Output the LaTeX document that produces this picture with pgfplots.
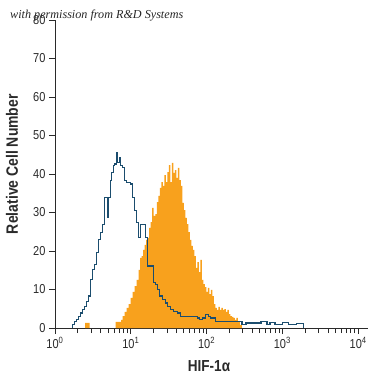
\documentclass[border=0pt]{standalone}
\usepackage{fontspec}
\setmainfont{Liberation Sans}[FakeStretch=0.85]
\newfontfamily\notefont{Liberation Serif}
\usepackage{pgfplots}
\pgfplotsset{compat=1.18}
\definecolor{histblue}{HTML}{1B4D6E}
\definecolor{historange}{HTML}{F8A11D}
\definecolor{axgray}{HTML}{2A2A2A}
\begin{document}
\begin{tikzpicture}
\begin{axis}[
  scale only axis, width=313bp, height=308bp,
  xmin=0, xmax=4.13, ymin=0, ymax=80,
  axis x line*=bottom, axis y line*=left,
  axis line style={axgray, line width=0.8pt},
  every tick/.style={axgray, line width=0.7pt},
  tick align=outside,
  major tick length=6bp, minor tick length=5bp,
  ytick={0,10,20,30,40,50,60,70,80},
  xtick={0,1,2,3,4},
  xticklabels={10\textsuperscript{0},10\textsuperscript{1},10\textsuperscript{2},10\textsuperscript{3},10\textsuperscript{4}},
  minor xtick={0.3010,0.4771,0.6021,0.6990,0.7782,0.8451,0.9031,0.9542,
    1.3010,1.4771,1.6021,1.6990,1.7782,1.8451,1.9031,1.9542,
    2.3010,2.4771,2.6021,2.6990,2.7782,2.8451,2.9031,2.9542,
    3.3010,3.4771,3.6021,3.6990,3.7782,3.8451,3.9031,3.9542},
  /pgf/number format/assume math mode=true,
  tick label style={font=\fontsize{13}{14}\selectfont, text=axgray},
  ylabel={Relative Cell Number},
  ylabel style={at={([xshift=-43bp]rel axis cs:0,0.532)}, anchor=center, font=\fontsize{16.5}{18}\selectfont\bfseries, text=axgray},
  xlabel={HIF-1α},
  xlabel style={at={([yshift=-38bp]rel axis cs:0.492,0)}, anchor=center, font=\fontsize{16}{18}\selectfont\bfseries, text=axgray},
  clip=false,
]
% orange filled histogram (small bump)
\addplot[fill=historange, draw=none, const plot] coordinates {
(0.3968,1.3) (0.4563,0)
} \closedcycle;
% orange filled histogram (main)
\addplot[fill=historange, draw=none, const plot] coordinates {
(0.8003,1.6) (0.8730,2.1) (0.8929,3.1) (0.9193,4.2) (0.9458,5.2) (0.9722,6.2)
(0.9987,7.8) (1.0251,9.4) (1.0516,10.9) (1.0780,12.5) (1.1045,15.1) (1.1243,18.2)
(1.1442,18.7) (1.1640,20.3) (1.1839,21.6) (1.2037,22.9) (1.2235,23.4) (1.2434,26.0)
(1.2632,27.5) (1.2831,31.2) (1.3029,29.1) (1.3228,29.6) (1.3426,32.7) (1.3624,34.3)
(1.3823,36.4) (1.4021,37.9) (1.4220,36.9) (1.4418,39.7) (1.4616,37.9) (1.4815,40.5)
(1.5013,42.3) (1.5212,37.9) (1.5410,42.9) (1.5608,40.3) (1.5807,41.0) (1.6005,39.0)
(1.6204,41.6) (1.6402,38.4) (1.6601,36.9) (1.6799,32.5) (1.6997,30.6) (1.7196,28.6)
(1.7394,27.0) (1.7593,24.9) (1.7791,22.9) (1.7989,21.3) (1.8188,20.3) (1.8386,18.7)
(1.8585,15.6) (1.8783,17.1) (1.8981,14.5) (1.9180,17.7) (1.9378,12.5) (1.9577,11.4)
(1.9775,10.6) (1.9974,9.4) (2.0172,10.4) (2.0370,8.8) (2.0569,9.9) (2.0767,8.3)
(2.0966,6.2) (2.1164,5.2) (2.1362,4.7) (2.1561,5.5) (2.1759,4.7) (2.1958,5.2)
(2.2156,4.7) (2.2354,4.9) (2.2553,4.2) (2.2751,4.7) (2.2950,3.6) (2.3148,3.1)
(2.3347,2.9) (2.3545,2.6) (2.3743,2.1) (2.3942,2.6) (2.4140,1.6) (2.4405,0.8)
(2.4669,0)
} \closedcycle;
% blue outline histogram
\addplot[histblue, line width=1.1pt, const plot, mark=none] coordinates {
(0.2315,0) (0.2315,0.8) (0.2579,1.6) (0.2844,2.1) (0.3109,2.9) (0.3373,3.9)
(0.3638,4.7) (0.3902,5.7) (0.4167,6.8) (0.4431,8.3) (0.4696,12.5) (0.4960,15.1)
(0.5225,16.4) (0.5490,19.5) (0.5754,22.9) (0.6019,24.9) (0.6283,26.8) (0.6482,34.0)
(0.6680,33.8) (0.6878,28.6) (0.7077,34.0) (0.7275,38.4) (0.7474,40.5) (0.7672,42.1)
(0.7870,42.6) (0.8069,45.7) (0.8267,42.9) (0.8466,44.2) (0.8664,42.1) (0.8862,41.8)
(0.9193,38.4) (0.9458,37.9) (0.9987,37.4) (1.0251,33.8) (1.0516,30.6) (1.0780,27.5)
(1.1045,23.6) (1.1310,27.0) (1.1971,23.6) (1.2235,16.1) (1.3029,11.9) (1.3294,11.2)
(1.3558,9.9) (1.3823,8.3) (1.4220,7.3) (1.4616,6.5) (1.4881,5.5) (1.5278,4.7)
(1.5675,4.2) (1.6204,3.9) (1.6601,3.1) (1.7262,2.9) (1.8849,2.6) (1.9114,2.1)
(1.9511,2.6) (1.9907,3.6) (2.0304,3.1) (2.0569,2.6) (2.1230,1.7) (2.4669,0.8)
(2.5198,1.3) (2.7183,1.6) (2.7976,0.8) (2.8373,1.4) (2.9034,0.8) (2.9960,1.5)
(3.0754,0.8) (3.1812,1.2) (3.2738,0)
};
\end{axis}
\node[anchor=west, inner sep=0pt, font=\notefont\itshape\fontsize{12.2}{13}\selectfont, text=black!85] at (-45bp,312bp) {with permission from R\&D Systems};
\path (-55bp,-47bp) rectangle (320bp,328bp);
\end{tikzpicture}
\end{document}
